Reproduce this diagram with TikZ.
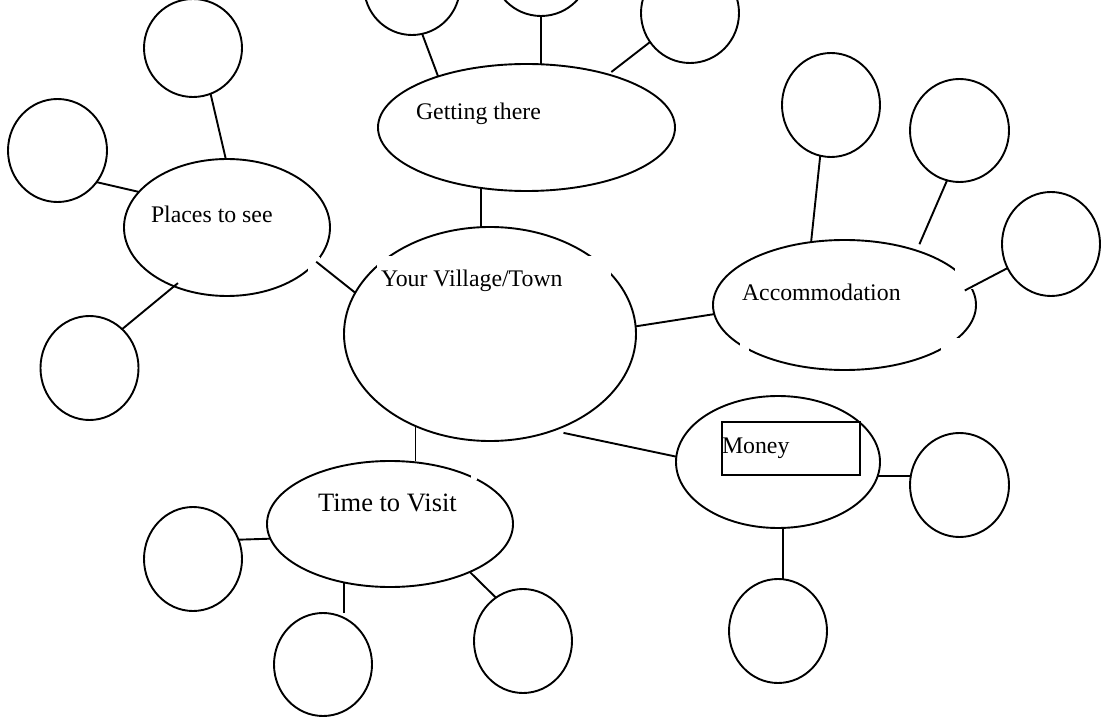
\documentclass[tikz,border=0pt]{standalone}
\usepackage{fontspec}
\setmainfont{Liberation Serif}
\usetikzlibrary{shapes.geometric}
\begin{document}
\begin{tikzpicture}[x=1pt,y=-1pt,
  bub/.style={ellipse, draw, line width=1.9pt, inner sep=0pt, outer sep=0pt},
  link/.style={line width=1.9pt},
  lbl/.style={anchor=base west, inner sep=0pt, outer sep=0pt, font=\fontsize{23.8}{28}\selectfont},
  biglbl/.style={anchor=base west, inner sep=0pt, outer sep=0pt, font=\fontsize{26.5}{31}\selectfont},
  gap/.style={fill=white, draw=none}]
\useasboundingbox (0,0) rectangle (1109,719);
\fill[white] (0,0) rectangle (1109,719);

% topic bubbles
\node[bub, minimum width=292, minimum height=214] (main) at (490,334) {};
\node[bub, minimum width=297, minimum height=127] (get) at (526.5,127.5) {};
\node[bub, minimum width=206, minimum height=137] (places) at (227,227.5) {};
\node[bub, minimum width=263, minimum height=130] (accom) at (844.5,305) {};
\node[bub, minimum width=204, minimum height=132] (money) at (778,462) {};
\node[bub, minimum width=246, minimum height=126] (time) at (390,524) {};

% empty circles
\node[bub, minimum width=98, minimum height=98] (pt) at (193,48) {};
\node[bub, minimum width=99, minimum height=103] (pl) at (57.5,150.5) {};
\node[bub, minimum width=98, minimum height=104] (pb) at (89.5,368) {};
\node[bub, minimum width=96, minimum height=98] (t1) at (412,-14) {};
\node[bub, minimum width=98, minimum height=98] (t2) at (541,-33) {};
\node[bub, minimum width=98, minimum height=100] (t3) at (690,13) {};
\node[bub, minimum width=98, minimum height=104] (a1) at (831,105) {};
\node[bub, minimum width=99, minimum height=103] (a2) at (959.5,130.5) {};
\node[bub, minimum width=98, minimum height=104] (a3) at (1051,244) {};
\node[bub, minimum width=99, minimum height=104] (m1) at (959.5,485) {};
\node[bub, minimum width=98, minimum height=104] (m2) at (778,631) {};
\node[bub, minimum width=98, minimum height=104] (v1) at (193,559) {};
\node[bub, minimum width=98, minimum height=103] (v2) at (323,664.5) {};
\node[bub, minimum width=98, minimum height=104] (v3) at (523,641) {};

% white text-box gaps in outlines
\fill[gap] (377,256) rectangle (611,300);
\fill[gap] (955,265) rectangle (974,289);
\fill[gap] (941,338) rectangle (959,352);
\fill[gap] (740,343) rectangle (749,351);
\fill[gap] (308,257) rectangle (320,272);
\fill[gap] (471,473) rectangle (477,480);

% connectors
\draw[link] (pt.-69) -- (places.91);
\draw[link] (pl.-39) -- (places.158);
\draw[link] (places.-21.5) -- (main.163);
\draw[link, shorten <=-5pt] (places.-132) -- (pb.50);
\draw[link] (t1.-78) -- (get.150);
\draw[link] (t2.south) -- (t2.south |- get.north);
\draw[link, shorten >=4pt] (t3.-144) -- (get.33);
\draw[link] (get.-127) -- (get.-127 |- main.north);
\draw[link] (main.3) -- (accom.184);
\draw[link] (a1.-102) -- (accom.118);
\draw[link, shorten >=7pt] (a2.-104) -- (accom.37);
\draw[link, shorten <=-7pt] (accom.8) -- (a3.-151);
\draw[link, shorten <=11pt] (main.-57) -- (money.177);
\draw[link] (money.-8) -- (money.-8 -| m1.west);
\draw[link] (money.-86) -- (money.-86 |- m2.north);
\draw[link] (main.-129) -- (main.-129 |- time.north);
\draw[link] (time.187) -- (v1.23);
\draw[link] (time.-128) -- (time.-128 |- v2.north);
\draw[link] (time.-31) -- (v3.122);

% money frame
\node[draw, line width=1.9pt, rectangle, inner sep=0pt, outer sep=0pt,
      anchor=north west, minimum width=138, minimum height=53] (mbox) at (722,422) {};

% labels
\node[lbl] (lplaces) at (151,223) {Places to see};
\node[lbl] (lget) at (416,120) {Getting there};
\node[lbl] (lmain) at (381,287) {Your Village/Town};
\node[lbl] (laccom) at (742,301) {Accommodation};
\node[lbl] (lmoney) at (722,453) {Money};
\node[biglbl] (ltime) at (318,511) {Time to Visit};
\end{tikzpicture}
\end{document}
